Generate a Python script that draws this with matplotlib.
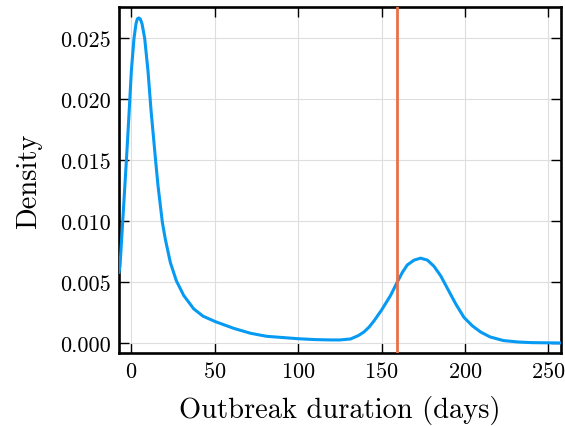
import numpy as np
import matplotlib
matplotlib.use("Agg")
import matplotlib.pyplot as plt

plt.rcParams['font.family'] = 'cmr10'
plt.rcParams['mathtext.fontset'] = 'cm'
plt.rcParams['axes.formatter.use_mathtext'] = True

# density curve (days, density)
days = [-7.4, -6.8, -5.2, -3.0, -1.5, 0.0, 1.6, 2.8, 3.6, 4.4, 5.3, 6.4, 8.0,
        10.0, 11.8, 14.6, 16.0, 18.6, 20.4, 23.4, 27.0, 31.4, 37.4, 43.0, 50.4,
        61.4, 71.4, 81.0, 100.0, 110.0, 119.4, 125.0, 131.4, 136.0, 139.4,
        142.5, 145.4, 150.0, 155.4, 159.4, 162.5, 165.4, 169.5, 173.4, 177.5,
        181.4, 185.5, 189.4, 194.5, 199.4, 204.5, 209.4, 215.0, 223.0, 232.0,
        240.0, 257.6]
density = [0.0058, 0.0063, 0.0099, 0.0149, 0.0185, 0.0223, 0.0250, 0.0262,
           0.02660, 0.02667, 0.02660, 0.0262, 0.0250, 0.0223, 0.0191, 0.0149,
           0.0129, 0.0099, 0.0085, 0.0066, 0.0051, 0.0039, 0.0028, 0.0022,
           0.00175, 0.0012, 0.0008, 0.00055, 0.00035, 0.00028, 0.00025,
           0.00025, 0.00033, 0.0006, 0.0009, 0.0013, 0.0018, 0.0027, 0.0039,
           0.0050, 0.0058, 0.0064, 0.0068, 0.00696, 0.0068, 0.0063, 0.0055,
           0.0045, 0.0032, 0.0021, 0.0014, 0.0009, 0.0005, 0.0002, 0.00008,
           0.00003, 0.0]
observed = 159.4

fig = plt.figure(figsize=(5.65, 4.27), dpi=100)
ax = fig.add_axes([0.2106, 0.171, 0.7824, 0.810])

ax.plot(days, density, color='#069af3', lw=2.2, zorder=3,
        solid_joinstyle='round')
ax.axvline(observed, color='#e8704a', lw=2.0, zorder=4)

ax.set_xlim(-7.4, 257.6)
ax.set_ylim(-0.00082, 0.02756)
ax.set_xticks([0, 50, 100, 150, 200, 250])
ax.set_yticks([0.0, 0.005, 0.010, 0.015, 0.020, 0.025])
ax.set_yticklabels(['0.000', '0.005', '0.010', '0.015', '0.020', '0.025'])
ax.grid(True, color='#dedede', lw=0.8)
ax.set_axisbelow(True)
ax.tick_params(direction='in', top=True, right=True, length=7, width=1,
               labelsize=16, pad=6)
for s in ax.spines.values():
    s.set_linewidth(1.9)

ax.set_xlabel('Outbreak duration (days)', fontsize=20.5, labelpad=10)
ax.set_ylabel('Density', fontsize=20.5, labelpad=13)

fig.savefig('out.png', dpi=100)
